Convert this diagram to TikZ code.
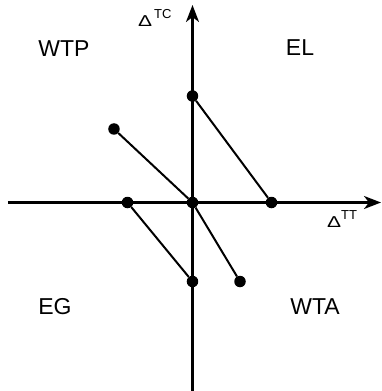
\documentclass[tikz,border=0pt]{standalone}
\usepackage{fontspec}
\setmainfont{Liberation Sans}
\usetikzlibrary{arrows.meta}
\newcommand{\bigdelta}{\scalebox{1.4}[1.05]{\fontsize{15}{18}\selectfont Δ}}
\begin{document}
\begin{tikzpicture}[x=1pt,y=1pt,
    axis/.style={line width=2.4pt,-{Stealth[length=17pt,width=13pt,inset=5pt]}},
    seg/.style={line width=2pt},
    dot/.style={circle,fill=black,inner sep=0pt,minimum size=11.5pt},
    region/.style={font=\fontsize{23}{26}\selectfont}]
  \useasboundingbox (-192.5,-188.5) rectangle (188.5,202.5);
  % Axes
  \coordinate (xl) at (-184.5,0);
  \coordinate (xr) at (188.5,0);
  \coordinate (yb) at (0,-188.5);
  \coordinate (yt) at (0,197.5);
  \draw[axis] (xl) -- (xr);
  \draw[axis] (yb) -- (yt);
  \node[anchor=base west,inner sep=0pt] (ltt) at (134.5,-24.5)
    {\bigdelta\raisebox{8pt}{\fontsize{13}{15}\selectfont TT}};
  \node[anchor=base west,inner sep=0pt] (ltc) at (-54.5,175.5)
    {\bigdelta\kern2pt\raisebox{8.5pt}{\fontsize{13}{15}\selectfont TC}};
  % Quadrant names
  \node[region] (wtp) at (-128.5,153.5) {WTP};
  \node[region] (el)  at (107.5,154.5) {EL};
  \node[region] (eg)  at (-137.5,-104.5) {EG};
  \node[region] (wta) at (122.5,-104.5) {WTA};
  % Points
  \node[dot] (o)  at (0,0) {};
  \node[dot] (t)  at (0,106.5) {};
  \node[dot] (ul) at (-78.5,73.5) {};
  \node[dot] (l)  at (-65,0) {};
  \node[dot] (r)  at (79,0) {};
  \node[dot] (b)  at (0,-79) {};
  \node[dot] (br) at (47.5,-79) {};
  % Segments
  \draw[seg] (ul) -- (o);
  \draw[seg] (t) -- (r);
  \draw[seg] (l) -- (b);
  \draw[seg] (o) -- (br);
\end{tikzpicture}
\end{document}
